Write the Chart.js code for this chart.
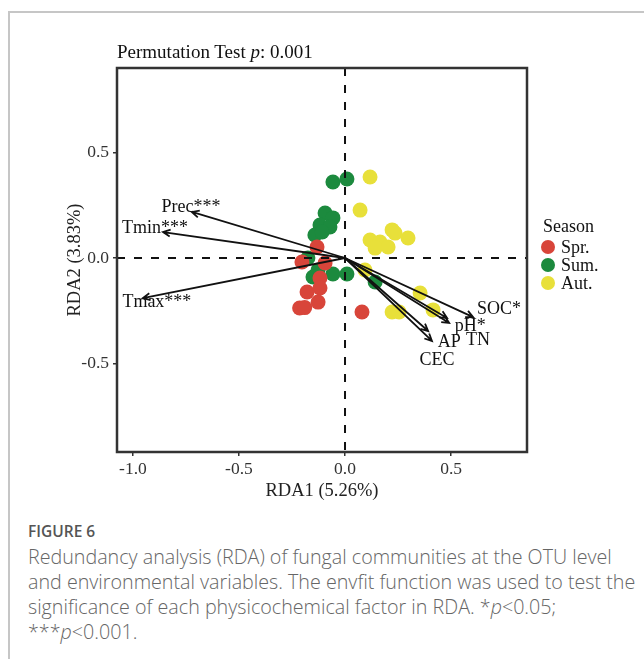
<!DOCTYPE html>
<html>
<head>
<meta charset="utf-8">
<script src="https://cdn.jsdelivr.net/npm/chart.js@4.4.1/dist/chart.umd.min.js"></script>
<style>
  body { margin: 0; background: #fff; width: 644px; height: 659px; overflow: hidden; position: relative; }
  .frame { position: absolute; left: 8px; top: 11px; width: 700px; height: 700px;
           border-left: 2px solid #c6c6c6; border-top: 2px solid #c6c6c6; }
  #rda { position: absolute; left: 0; top: 0; }
  .ptitle { position: absolute; left: 117px; top: 41px; font: 19px/22px "Liberation Serif", serif; color: #111; white-space: nowrap; }
  .legend { position: absolute; left: 539px; top: 217px; font: 18px/18px "Liberation Serif", serif; color: #111; }
  .legend .lt { margin-left: 4px; margin-bottom: 3px; }
  .legend .item { display: flex; align-items: center; height: 18px; }
  .legend .dot { width: 14px; height: 14px; border-radius: 50%; margin: 0 6px 0 2px; }
  .fig { position: absolute; left: 28px; top: 521px; font: 600 15.5px/20px "Open Sans", sans-serif; color: #555; }
  .cap { position: absolute; left: 28px; top: 544px; font: 300 19.7px/25px "Open Sans", sans-serif; color: #666; white-space: nowrap; }
</style>
</head>
<body>
<div class="frame"></div>
<canvas id="rda" width="644" height="520"></canvas>
<div class="ptitle">Permutation Test <i>p</i>: 0.001</div>
<div class="legend" id="legend"></div>
<div class="fig">FIGURE 6</div>
<div class="cap">Redundancy analysis (RDA) of fungal communities at the OTU level<br>and environmental variables. The envfit function was used to test the<br>significance of each physicochemical factor in RDA. *<i>p</i>&lt;0.05;<br>***<i>p</i>&lt;0.001.</div>

<script>
// sample scores by season
const sprX = [-0.132, -0.203, -0.094, -0.118, -0.179, -0.118, -0.214, -0.190, -0.127, 0.080];
const sprY = [0.052, -0.019, -0.024, -0.095, -0.161, -0.142, -0.237, -0.235, -0.209, -0.256];
const sumX = [-0.057, 0.009, -0.094, -0.057, -0.118, -0.071, -0.142, -0.108, -0.175, -0.127, -0.151, -0.057, 0.009, 0.142];
const sumY = [0.360, 0.374, 0.213, 0.190, 0.156, 0.147, 0.109, 0.123, 0.000, -0.057, -0.090, -0.076, -0.076, -0.114];
const autX = [0.118, 0.071, 0.222, 0.236, 0.297, 0.118, 0.165, 0.203, 0.142, 0.094, 0.354, 0.415, 0.222, 0.255];
const autY = [0.384, 0.227, 0.133, 0.118, 0.095, 0.085, 0.076, 0.052, 0.047, -0.057, -0.166, -0.246, -0.256, -0.256];

const seasons = ['Spr.', 'Sum.', 'Aut.'];
const seasonColors = ['#d8453a', '#1c8a3e', '#e8e03a'];

// environmental vectors (arrow tips) and where their labels sit
const envNames = ['Prec***', 'Tmin***', 'Tmax***', 'SOC*', 'pH*', 'TN', 'AP', 'CEC'];
const envX = [-0.722, -0.858, -0.953, 0.604, 0.481, 0.491, 0.392, 0.410];
const envY = [0.218, 0.123, -0.190, -0.280, -0.284, -0.308, -0.346, -0.393];
const labX = [-0.726, -0.896, -0.887, 0.726, 0.590, 0.627, 0.491, 0.434];
const labY = [0.242, 0.142, -0.209, -0.242, -0.322, -0.389, -0.398, -0.483];

const xTicks = [-1.0, -0.5, 0.0, 0.5];
const yTicks = [-0.5, 0.0, 0.5];

function pts(xs, ys) {
  return xs.map((x, i) => ({ x: x, y: ys[i] }));
}

const serif = '"Liberation Serif", serif';

// dashed zero lines, panel box, arrows and labels
const rdaDecor = {
  id: 'rdaDecor',
  afterDatasetsDraw(chart) {
    const ctx = chart.ctx;
    const a = chart.chartArea;
    const sx = chart.scales.x, sy = chart.scales.y;
    const x0 = sx.getPixelForValue(0), y0 = sy.getPixelForValue(0);

    ctx.save();
    ctx.strokeStyle = '#111';
    ctx.lineWidth = 2;
    ctx.setLineDash([8, 9]);
    ctx.beginPath();
    ctx.moveTo(a.left, y0); ctx.lineTo(a.right, y0);
    ctx.moveTo(x0, a.top); ctx.lineTo(x0, a.bottom);
    ctx.stroke();
    ctx.setLineDash([]);

    ctx.lineWidth = 1.8;
    envNames.forEach((name, i) => {
      const px = sx.getPixelForValue(envX[i]);
      const py = sy.getPixelForValue(envY[i]);
      const ang = Math.atan2(py - y0, px - x0);
      ctx.beginPath();
      ctx.moveTo(x0, y0); ctx.lineTo(px, py);
      ctx.moveTo(px - 8 * Math.cos(ang - 0.45), py - 8 * Math.sin(ang - 0.45));
      ctx.lineTo(px, py);
      ctx.lineTo(px - 8 * Math.cos(ang + 0.45), py - 8 * Math.sin(ang + 0.45));
      ctx.stroke();
    });

    ctx.fillStyle = '#111';
    ctx.font = '18px ' + serif;
    ctx.textAlign = 'center';
    ctx.textBaseline = 'middle';
    envNames.forEach((name, i) => {
      ctx.fillText(name, sx.getPixelForValue(labX[i]), sy.getPixelForValue(labY[i]));
    });

    ctx.strokeStyle = '#333';
    ctx.lineWidth = 2.5;
    ctx.strokeRect(a.left, a.top, a.right - a.left, a.bottom - a.top);
    ctx.restore();
  }
};

const ctx = document.getElementById('rda').getContext('2d');
new Chart(ctx, {
  type: 'scatter',
  data: {
    datasets: [
      { label: seasons[0], data: pts(sprX, sprY), backgroundColor: seasonColors[0] },
      { label: seasons[1], data: pts(sumX, sumY), backgroundColor: seasonColors[1] },
      { label: seasons[2], data: pts(autX, autY), backgroundColor: seasonColors[2] }
    ]
  },
  options: {
    responsive: false,
    animation: false,
    layout: { padding: { left: 50, top: 68, right: 117, bottom: 8 } },
    elements: { point: { radius: 7.5, borderWidth: 0, hoverRadius: 7.5 } },
    plugins: { legend: { display: false }, tooltip: { enabled: false } },
    scales: {
      x: {
        type: 'linear',
        min: -1.075, max: 0.858,
        afterFit: s => { s.height = 60; },
        afterBuildTicks: s => { s.ticks = xTicks.map(v => ({ value: v })); },
        grid: { drawOnChartArea: false, tickLength: 4, color: '#333', lineWidth: 1.5 },
        border: { display: false },
        ticks: {
          padding: 3,
          color: '#333',
          font: { family: serif, size: 17.5 },
          callback: v => v.toFixed(1)
        },
        title: {
          display: true, text: 'RDA1 (5.26%)', color: '#222',
          font: { family: serif, size: 18.5 }, padding: { top: 0, bottom: 10 }
        }
      },
      y: {
        type: 'linear',
        min: -0.919, max: 0.90,
        afterFit: s => { s.width = 67; },
        afterBuildTicks: s => { s.ticks = yTicks.map(v => ({ value: v })); },
        grid: { drawOnChartArea: false, tickLength: 4, color: '#333', lineWidth: 1.5 },
        border: { display: false },
        ticks: {
          padding: 4,
          color: '#333',
          font: { family: serif, size: 17.5 },
          callback: v => v.toFixed(1)
        },
        title: {
          display: true, text: 'RDA2 (3.83%)', color: '#222',
          font: { family: serif, size: 18.5 }, padding: { top: 14, bottom: 0 }
        }
      }
    }
  },
  plugins: [rdaDecor]
});

// legend
const legendEl = document.getElementById('legend');
let html = '<div class="lt">Season</div>';
seasons.forEach((s, i) => {
  html += '<div class="item"><span class="dot" style="background:' + seasonColors[i] + '"></span>' + s + '</div>';
});
legendEl.innerHTML = html;
</script>
</body>
</html>
